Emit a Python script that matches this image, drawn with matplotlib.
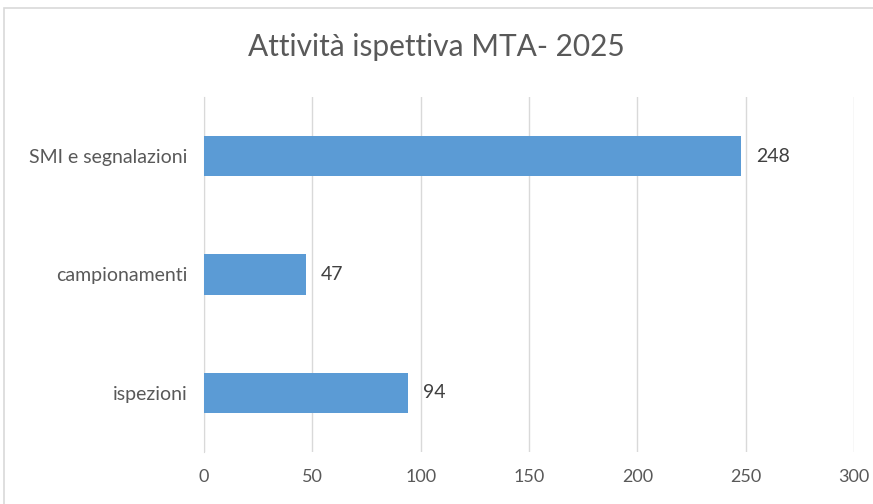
import matplotlib
matplotlib.use("Agg")
import matplotlib.pyplot as plt
from matplotlib.patches import Rectangle

categories = ["ispezioni", "campionamenti", "SMI e segnalazioni"]
values = [94, 47, 248]
xticks = [0, 50, 100, 150, 200, 250, 300]
title = "Attività ispettiva MTA- 2025"

W, H = 873, 504
fig = plt.figure(figsize=(W/100, H/100), dpi=100)
fig.patch.set_facecolor("white")
plt.rcParams['font.family'] = ['Lato', 'DejaVu Sans']

# outer chart border
fig.patches.append(Rectangle((4/W, -0.05), 1.2, (H-8)/H + 0.05, transform=fig.transFigure,
                             fill=False, edgecolor="#d9d9d9", linewidth=1.2))

ax = fig.add_axes([204/W, 1-452/H, (854-204)/W, (452-97)/H])
txtc = "#595959"
ax.barh(range(len(categories)), values, height=0.34, color="#5B9BD5", zorder=3)
ax.set_xlim(0, 300)
ax.set_ylim(-0.5, 2.5)
ax.set_xticks(xticks)
ax.set_xticklabels([str(t) for t in xticks])
ax.set_yticks(range(len(categories)))
ax.set_yticklabels(categories)
ax.tick_params(axis="both", length=0, colors=txtc)
ax.tick_params(axis="x", pad=12, labelsize=13)
ax.tick_params(axis="y", pad=12, labelsize=14)
ax.grid(axis="x", color="#d9d9d9", linewidth=1, zorder=0)
for s in ["top", "right", "bottom"]:
    ax.spines[s].set_visible(False)
ax.spines["left"].set_color("#d9d9d9")
for i, v in enumerate(values):
    ax.annotate(str(v), (v, i), xytext=(11, 0), textcoords="offset points",
                va="center", ha="left", color="#404040", fontsize=14)

fig.text(0.5, 1-47/H, title, ha="center", va="center", fontsize=21.5, color=txtc)
fig.savefig("out.png", dpi=100)
